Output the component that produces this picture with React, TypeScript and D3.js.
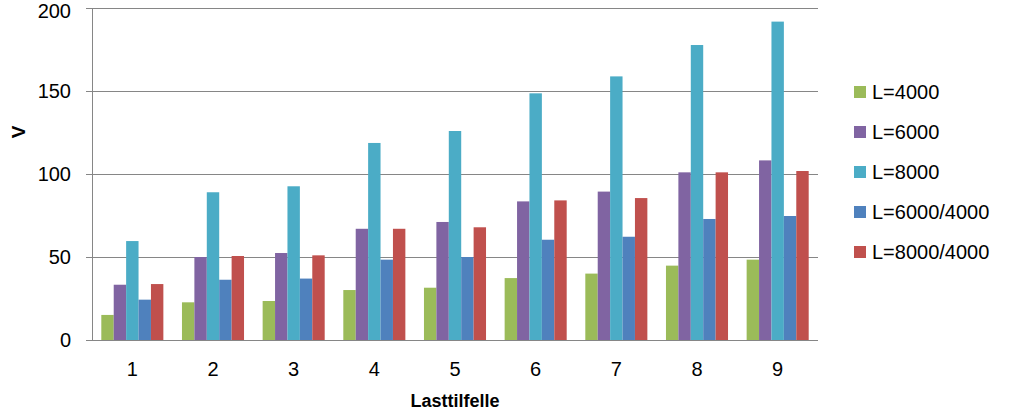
import React from "react";
import * as d3 from "d3";

const categories = ["1", "2", "3", "4", "5", "6", "7", "8", "9"];
const seriesNames = ["L=4000", "L=6000", "L=8000", "L=6000/4000", "L=8000/4000"];
const sL4000 = [15.1, 22.7, 23.5, 30.1, 31.5, 37.3, 40.0, 44.8, 48.4];
const sL6000 = [33.3, 50.0, 52.4, 67.0, 71.1, 83.5, 89.4, 101.0, 108.2];
const sL8000 = [59.6, 89.0, 92.6, 118.7, 125.9, 148.6, 158.8, 177.7, 191.8];
const sL6000_4000 = [24.3, 36.3, 37.0, 48.4, 50.0, 60.4, 62.2, 72.9, 74.7];
const sL8000_4000 = [33.7, 50.6, 51.0, 67.0, 67.9, 84.1, 85.5, 101.0, 101.8];
const seriesValues = [sL4000, sL6000, sL8000, sL6000_4000, sL8000_4000];
const colors = ["#9BBB59", "#8064A2", "#4BACC6", "#4F81BD", "#C0504D"];
const yTicks = [0, 50, 100, 150, 200];

const W = 1024;
const H = 412;
const left = 92;
const right = 818;
const top = 8;
const bottom = 340;

export default function App() {
  const x = d3.scaleBand<string>().domain(categories).range([left, right]).paddingInner(0).paddingOuter(0);
  const y = d3.scaleLinear().domain([0, 200]).range([bottom, top]);
  const bw = x.bandwidth();
  const barW = bw / 6.5;
  const groupOffset = (bw - barW * 5) / 2;
  const font = "'Liberation Sans', Arial, sans-serif";
  const gridColor = "#868686";

  return (
    <svg
      width={W}
      height={H}
      style={{ position: "absolute", left: 0, top: 0, background: "#fff" }}
      fontFamily={font}
    >
      <rect x={0} y={0} width={W} height={H} fill="#fff" />
      {yTicks.map((t) => (
        <g key={t}>
          <line x1={left - 6} x2={right} y1={y(t) + 0.5} y2={y(t) + 0.5} stroke={gridColor} strokeWidth={1} />
          <text x={71} y={Math.max(y(t), 11)} dy="0.35em" textAnchor="end" fontSize={20} fill="#000">
            {t}
          </text>
        </g>
      ))}
      {seriesValues.map((vals, si) =>
        vals.map((v, ci) => (
          <rect
            key={`${si}-${ci}`}
            x={(x(categories[ci]) as number) + groupOffset + si * barW}
            y={y(v)}
            width={barW}
            height={y(0) - y(v)}
            fill={colors[si]}
          />
        ))
      )}
      <line x1={left + 0.5} x2={left + 0.5} y1={top} y2={bottom} stroke={gridColor} strokeWidth={1} />
      <line x1={left - 6} x2={right} y1={bottom + 0.5} y2={bottom + 0.5} stroke={gridColor} strokeWidth={1} />
      {categories.map((c) => (
        <text
          key={c}
          x={(x(c) as number) + bw / 2}
          y={376}
          textAnchor="middle"
          fontSize={20}
          fill="#000"
        >
          {c}
        </text>
      ))}
      <text x={(left + right) / 2} y={407} textAnchor="middle" fontSize={18} fontWeight="bold" fill="#000">
        Lasttilfelle
      </text>
      <text
        transform={`translate(25, 132) rotate(-90)`}
        textAnchor="middle"
        fontSize={19}
        fontWeight="bold"
        fill="#000"
      >
        V
      </text>
      {seriesNames.map((n, i) => (
        <g key={n}>
          <rect x={854} y={86 + i * 40} width={12} height={12} fill={colors[i]} />
          <text x={872} y={92 + i * 40} dy="0.35em" fontSize={20} fill="#000">
            {n}
          </text>
        </g>
      ))}
    </svg>
  );
}
